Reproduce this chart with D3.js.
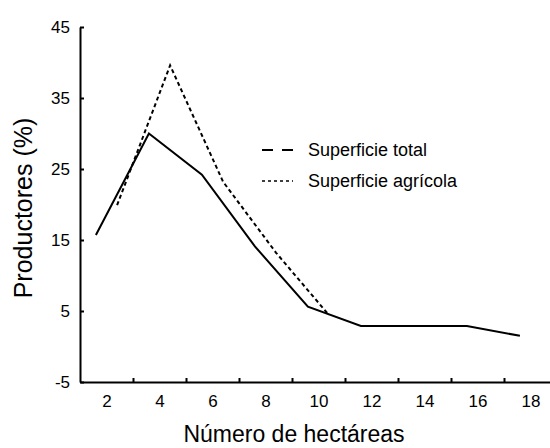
<!DOCTYPE html>
<html>
<head>
<meta charset="utf-8">
<script src="https://cdn.jsdelivr.net/npm/d3@7"></script>
<style>
  body { margin: 0; background: #fff; }
  svg { display: block; font-family: "Liberation Sans", Arial, sans-serif; }
  .axis path, .axis line { stroke: #000; stroke-width: 2; }
  .axis text { fill: #000; font-size: 17px; }
</style>
</head>
<body>
<div id="chart"></div>
<script>
// values
var totalX = [1.6, 3.6, 5.6, 7.6, 9.6, 11.6, 15.6, 17.6];
var totalY = [15.7, 30.0, 24.2, 14.1, 5.6, 2.9, 2.9, 1.5];
var agriX = [2.4, 4.4, 6.4, 8.4, 10.4];
var agriY = [19.9, 39.6, 23.2, 13.2, 4.4];
var xLabels = [2, 4, 6, 8, 10, 12, 14, 16, 18];
var xMarks = [3, 5, 7, 9, 11, 13, 15, 17, 19];
var yTicks = [-5, 5, 15, 25, 35, 45];
var legendNames = ["Superficie total", "Superficie agrícola"];

var width = 550, height = 448;
var svg = d3.select("#chart").append("svg").attr("width", width).attr("height", height);

var x = d3.scaleLinear().domain([1, 19]).range([80, 557]);
var y = d3.scaleLinear().domain([-5, 45]).range([382, 27]);

// x axis: marks at odd values, labels at even values
svg.append("g").attr("class", "axis")
  .attr("transform", "translate(0," + y(-5) + ")")
  .call(d3.axisBottom(x).tickValues(xMarks).tickSize(-4).tickSizeOuter(0).tickFormat(""));

var xl = svg.append("g").attr("class", "axis")
  .attr("transform", "translate(0," + y(-5) + ")")
  .call(d3.axisBottom(x).tickValues(xLabels).tickSize(0).tickPadding(13));
xl.select(".domain").remove();

svg.append("g").attr("class", "axis")
  .attr("transform", "translate(" + x(1) + ",0)")
  .call(d3.axisLeft(y).tickValues(yTicks).tickSize(-4).tickSizeOuter(0).tickPadding(10)
    .tickFormat(function(d) { return String(d); }));

var line = d3.line().x(function(d) { return x(d[0]); }).y(function(d) { return y(d[1]); });

var total = d3.zip(totalX, totalY);
var agri = d3.zip(agriX, agriY);

svg.append("path").datum(total)
  .attr("d", line).attr("fill", "none").attr("stroke", "#000").attr("stroke-width", 2);

svg.append("path").datum(agri)
  .attr("d", line).attr("fill", "none").attr("stroke", "#000")
  .attr("stroke-width", 2).attr("stroke-dasharray", "4,3");

// legend
var legend = svg.append("g");
var dashes = ["11,9", "3,3"];
legendNames.forEach(function(name, i) {
  var ly = 150 + i * 31;
  legend.append("line")
    .attr("x1", 262).attr("x2", 293).attr("y1", ly).attr("y2", ly)
    .attr("stroke", "#000").attr("stroke-width", i == 0 ? 2 : 1.5)
    .attr("stroke-dasharray", dashes[i]);
  legend.append("text")
    .attr("x", 308).attr("y", ly).attr("dy", "0.35em")
    .style("font-size", "18px")
    .text(name);
});

// axis titles
svg.append("text")
  .attr("x", 294).attr("y", 442)
  .attr("text-anchor", "middle")
  .style("font-size", "23px")
  .text("Número de hectáreas");

svg.append("text")
  .attr("transform", "translate(32,208) rotate(-90)")
  .attr("text-anchor", "middle")
  .style("font-size", "25px")
  .text("Productores (%)");
</script>
</body>
</html>
